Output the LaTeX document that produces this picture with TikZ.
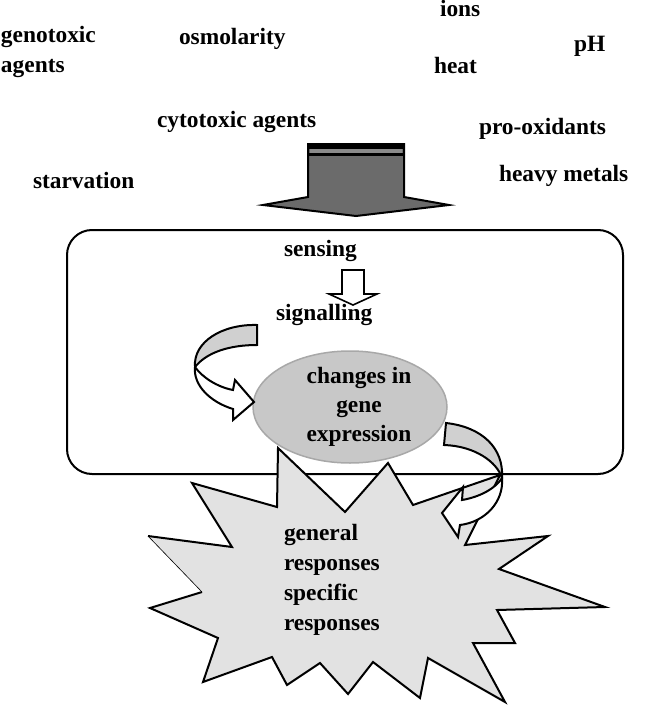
\documentclass[tikz,border=0pt]{standalone}
\usepackage{fontspec}
\setmainfont{Liberation Serif}
\usetikzlibrary{shapes.geometric}
\definecolor{arrowgray}{HTML}{6B6B6B}
\definecolor{stripegray}{HTML}{8A8A8A}
\definecolor{bandgray}{HTML}{D0D0D0}
\definecolor{stargray}{HTML}{E2E2E2}
\definecolor{ellfill}{HTML}{C8C8C8}
\definecolor{elledge}{HTML}{A8A8A8}
\begin{document}
\begin{tikzpicture}[x=1pt,y=-1pt,line width=2pt,line join=miter,
  lbl/.style={anchor=base west,inner sep=0pt,font=\bfseries\fontsize{23.4}{28}\selectfont},
  lblc/.style={anchor=base,inner sep=0pt,font=\bfseries\fontsize{23.4}{28}\selectfont},
  shapeline/.style={draw=black,line width=2pt}]
\useasboundingbox (0,0) rectangle (653,706);

% cell box
\node[draw,line width=2pt,rounded corners=25pt,minimum width=556pt,minimum height=244pt,inner sep=0pt] (cell) at (345,352) {};

% big input arrow
\draw[shapeline,fill=arrowgray] (308,144) -- (404,144) -- (404,197) -- (449,205) -- (356,216) -- (263,205) -- (308,197) -- cycle;
\fill[black] (308,143) rectangle (404,149);
\fill[stripegray] (310,149) rectangle (402,153);
\fill[black] (308,153) rectangle (404,156);

% starburst of responses
\fill[stargray] (278,448) -- (345,512) -- (388,463) -- (413,505) -- (500,475) -- (465,545)
  -- (548,536) -- (499,569) -- (605,607) -- (497,610) -- (515,643) -- (473,643)
  -- (505,702) -- (428,658) -- (420,698) -- (373,662) -- (348,694) -- (320,663)
  -- (287,685) -- (272,657) -- (203,682) -- (218,638) -- (150,608) -- (202,592)
  -- (148,536) -- (232,547) -- (192,483) -- (277,507) -- cycle;
\draw[shapeline] (202,592) -- (150,608) -- (218,638) -- (203,682) -- (272,657) -- (287,685)
  -- (320,663) -- (348,694) -- (373,662) -- (420,698) -- (428,658) -- (505,702)
  -- (473,643) -- (515,643) -- (497,610) -- (605,607) -- (499,569) -- (548,536)
  -- (465,545) -- (500,475) -- (413,505) -- (388,463) -- (345,512) -- (278,448)
  -- (277,507) -- (192,483) -- (232,547) -- (148,536);
\draw[line width=0.6pt] (148,536) -- (202,592);

% gene expression ellipse
\node[ellipse,fill=ellfill,draw=elledge,line width=1.5pt,minimum width=194pt,minimum height=112pt,inner sep=0pt] (expr) at (350,407) {};

% left curved arrow
\draw[shapeline,fill=bandgray] (257,325) .. controls (222,324) and (193,342) .. (195,367)
  .. controls (207,352) and (230,345) .. (257,345) -- cycle;
\draw[shapeline,fill=white] (195,367) .. controls (202,377) and (217,387) .. (233,390)
  -- (235,380) -- (254,402) -- (233,420) -- (233,409)
  .. controls (210,402) and (193,385) .. (195,367) -- cycle;

% right curved arrow
\draw[shapeline,fill=bandgray] (446,423) .. controls (482,427) and (504,448) .. (502,478)
  .. controls (497,462) and (475,446) .. (444,445) -- cycle;
\draw[shapeline,fill=white] (502,478) .. controls (496,488) and (480,497) .. (462,500)
  -- (463,487) -- (442,513) -- (458,537) -- (460,525)
  .. controls (485,522) and (504,502) .. (502,478) -- cycle;

% small sensing arrow
\draw[line width=1.6pt,fill=white] (342,270) -- (364,270) -- (364,294) -- (377,294) -- (353,305) -- (329,294) -- (342,294) -- cycle;

% stress labels
\node[lbl] (geno) at (0,43) {genotoxic};
\node[lbl] (agents) at (0,73) {agents};
\node[lbl] (osmo) at (178,45) {osmolarity};
\node[lbl] (cyto) at (156,128) {cytotoxic agents};
\node[lbl] (starv) at (32,188) {starvation};
\node[lbl] (ions) at (439,17) {ions};
\node[lbl] (ph) at (573,52) {pH};
\node[lbl] (heat) at (433,74) {heat};
\node[lbl] (prox) at (478,134) {pro-oxidants};
\node[lbl] (heavy) at (498,181) {heavy metals};

% cell labels
\node[lbl] (sens) at (283,256) {sensing};
\node[lbl] (sig) at (275,320) {signalling};
\node[lblc] (chg) at (359,383) {changes in};
\node[lblc] (gene) at (359,412) {gene};
\node[lblc] (expn) at (359,441) {expression};

% response labels
\node[lbl] (gen) at (283,540) {general};
\node[lbl] (resp1) at (283,570) {responses};
\node[lbl] (spec) at (283,600) {specific};
\node[lbl] (resp2) at (283,630) {responses};
\end{tikzpicture}
\end{document}
